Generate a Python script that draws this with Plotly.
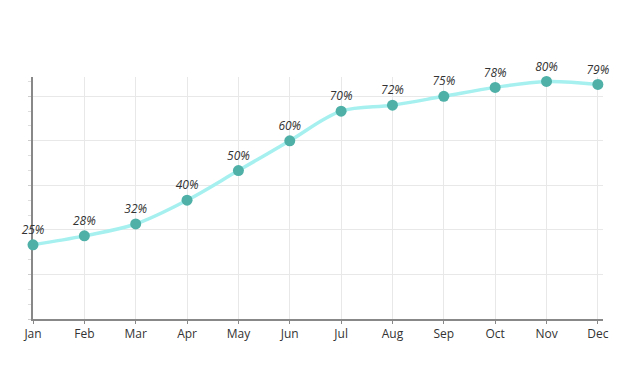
import plotly.graph_objects as go

months = ["Jan", "Feb", "Mar", "Apr", "May", "Jun", "Jul", "Aug", "Sep", "Oct", "Nov", "Dec"]
values = [25, 28, 32, 40, 50, 60, 70, 72, 75, 78, 80, 79]
labels = [f"{v}%" for v in values]

fig = go.Figure()
fig.add_trace(go.Scatter(
    x=list(range(len(months))), y=values,
    mode="lines+markers+text",
    line=dict(color="#a6f0f0", width=3.5, shape="spline", smoothing=1),
    marker=dict(color="#4fb0a8", size=11),
    text=labels, textposition="top center",
    textfont=dict(family="Open Sans", size=12, color="#333", style="italic"),
    cliponaxis=False,
))

fig.update_layout(
    width=633, height=372,
    margin=dict(l=25, r=38, t=69, b=61),
    paper_bgcolor="white", plot_bgcolor="white",
    showlegend=False,
    font=dict(family="Open Sans", size=12, color="#333"),
)
fig.update_xaxes(
    tickmode="array", tickvals=list(range(len(months))), ticktext=months,
    range=[0, 11.1], showgrid=True, gridcolor="#e8e8e8", gridwidth=1,
    showline=True, linecolor="#888", linewidth=1.5,
    ticks="outside", ticklen=3, tickcolor="#888", zeroline=False,
    automargin=False, layer="below traces",
)
fig.update_yaxes(
    range=[0, 81.5], dtick=15, tick0=0, showticklabels=False,
    showgrid=True, gridcolor="#e8e8e8", gridwidth=1,
    showline=True, linecolor="#888", linewidth=1.5,
    ticks="outside", ticklen=3, tickcolor="#ccc", zeroline=False,
    minor=dict(dtick=5, ticks="outside", ticklen=3, tickcolor="#ddd", showgrid=False),
    automargin=False, layer="below traces",
)

fig.write_html("out.html")
